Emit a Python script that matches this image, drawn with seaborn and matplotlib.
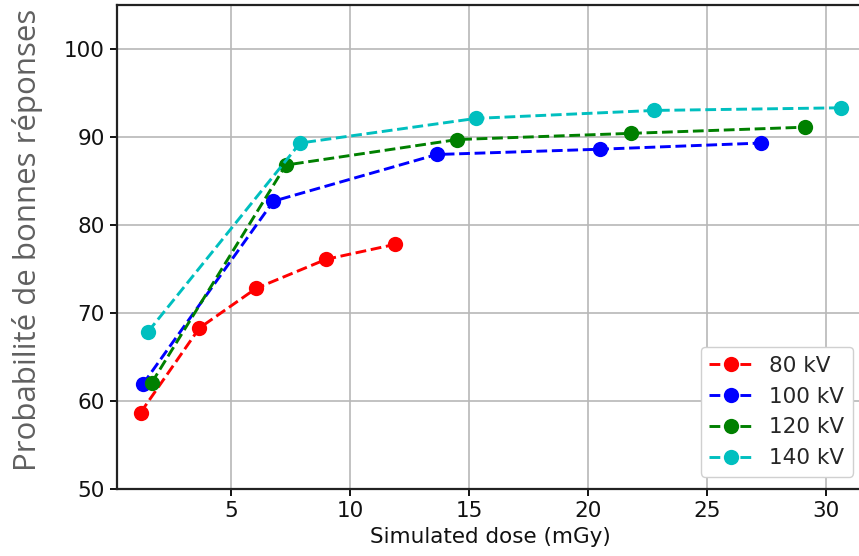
import pandas as pd
import matplotlib
matplotlib.use("Agg")
import matplotlib.pyplot as plt
import seaborn as sns

# ------------------------------------------------------------
# Data
# ------------------------------------------------------------
dose_80 = [1.2, 3.67, 6.05, 8.99, 11.89]
prob_80 = [58.7, 68.3, 72.8, 76.1, 77.8]

dose_100 = [1.29, 6.78, 13.64, 20.49, 27.27]
prob_100 = [61.9, 82.7, 88.0, 88.6, 89.3]

dose_120 = [1.67, 7.30, 14.51, 21.8, 29.1]
prob_120 = [62.1, 86.8, 89.7, 90.4, 91.1]

dose_140 = [1.52, 7.90, 15.29, 22.76, 30.6]
prob_140 = [67.9, 89.3, 92.1, 93.0, 93.3]

series_labels = ["80 kV", "100 kV", "120 kV", "140 kV"]
series_colors = {"80 kV": "r", "100 kV": "b", "120 kV": "g", "140 kV": "c"}

x_ticks = [5, 10, 15, 20, 25, 30]
y_ticks = [50, 60, 70, 80, 90, 100]

# long-form table for seaborn
frames = []
for lab, xs, ys in zip(series_labels,
                       [dose_80, dose_100, dose_120, dose_140],
                       [prob_80, prob_100, prob_120, prob_140]):
    frames.append(pd.DataFrame({"dose": xs, "prob": ys, "kV": lab}))
df = pd.concat(frames, ignore_index=True)

# ------------------------------------------------------------
# Style
# ------------------------------------------------------------
sns.set_style("ticks", {
    "axes.grid": True,
    "grid.color": "#b8b8b8",
    "axes.edgecolor": "#222222",
})
plt.rcParams["font.family"] = ["DejaVu Sans"]
plt.rcParams["grid.linewidth"] = 1.2

fig = plt.figure(figsize=(8.59, 5.56), dpi=100)
ax = fig.add_axes([0.1359, 0.12, 0.869, 0.8715])

for lab in series_labels:
    sub = df[df["kV"] == lab]
    sns.lineplot(
        data=sub, x="dose", y="prob",
        color=series_colors[lab],
        marker="o", markersize=11,
        markeredgewidth=0,
        linestyle="--", linewidth=2.1,
        label=lab, ax=ax, sort=False,
    )

ax.set_xlim(0.2, 31.55)
ax.set_ylim(50, 105)
ax.set_xticks(x_ticks)
ax.set_yticks(y_ticks)
ax.tick_params(labelsize=15.5, length=5, width=1.4, colors="#111111")
for sp in ax.spines.values():
    sp.set_linewidth(1.6)

ax.set_xlabel("Simulated dose (mGy)", fontsize=15.5, color="#111111", labelpad=4)
ax.set_ylabel("")

fig.text(0.032, 1 - 240 / 556, "Probabilité de bonnes réponses",
         rotation=90, ha="center", va="center",
         fontsize=22.5, color="#606060", family=["Open Sans", "DejaVu Sans"])

ax.legend(loc="lower right", bbox_to_anchor=(0.9866, 0.026),
          borderaxespad=0, fontsize=15.5, frameon=True,
          edgecolor="#d0d0d0", framealpha=1)

fig.savefig("out.png", dpi=100)
